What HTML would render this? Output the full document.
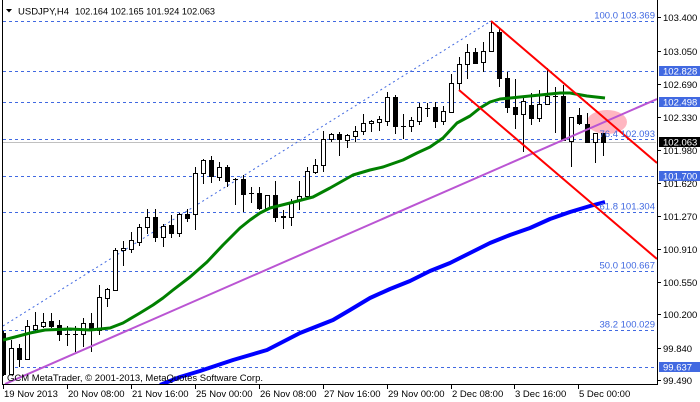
<!DOCTYPE html>
<html><head><meta charset="utf-8"><style>
html,body{margin:0;padding:0;background:#fff;}
svg{display:block;}
text{font-family:"Liberation Sans",sans-serif;font-size:9.5px;}
</style></head><body>
<svg width="700" height="402" viewBox="0 0 700 402" xmlns="http://www.w3.org/2000/svg">
<defs><clipPath id="c"><rect x="3" y="0" width="654" height="384"/></clipPath></defs>
<rect width="700" height="402" fill="#fff"/>
<g clip-path="url(#c)">
<!-- horizontal dashed lines -->
<g stroke="#4169E1" stroke-width="1" stroke-dasharray="3,3" fill="none">
<path d="M3 21.5H656M3 71.5H656M3 102.5H656M3 139.5H656M3 176.5H656M3 212.5H656M3 271.5H656M3 330.5H656M3 367.5H656"/>
</g>
<path d="M3 142.5H656" stroke="#C0C0C0" stroke-width="1"/>
<!-- fib trend line -->
<path d="M3 326L491 21" stroke="#4169E1" stroke-width="1" stroke-dasharray="2,3" fill="none"/>
<!-- ellipse -->
<ellipse cx="607" cy="122" rx="20" ry="12" fill="#FFB6C1"/>
<!-- candle wicks -->
<path stroke="#000" stroke-width="1" fill="none" d="M3.5 331V376M11.5 340V375M19.5 344V367M27.5 320V360M35.5 312V333M43.5 313V328M51.5 313V328M59.5 320V341M67.5 326V346M75.5 326V352M83.5 318V347M91.5 313V352M99.5 285V335M107.5 288V307M115.5 248V291M123.5 241V266M131.5 232V253M139.5 224V246M147.5 209V234M155.5 209V242M163.5 224V247M171.5 215V238M179.5 213V237M187.5 209V222M195.5 167V230M203.5 159V184M211.5 156V183M219.5 162V181M227.5 165V187M235.5 178V205M243.5 175V212M251.5 187V203M259.5 187V210M267.5 195V210M275.5 181V222M283.5 210V229M291.5 199V226M299.5 181V210M307.5 167V198M315.5 159V174M323.5 131V172M331.5 133V142M339.5 132V156M347.5 134V148M355.5 126V142M363.5 114V135M371.5 120V132M379.5 116V131M387.5 92V126M395.5 95V134M403.5 114V139M411.5 117V132M419.5 103V125M427.5 103V117M435.5 102V128M443.5 106V125M451.5 74V113M459.5 57V90M467.5 44V79M475.5 48V64M483.5 42V72M491.5 22V52M499.5 29V87M507.5 72V113M515.5 79V129M523.5 98V152M531.5 93V125M539.5 90V122M547.5 68V105M555.5 87V133M563.5 85V141M571.5 117V167M579.5 108V125M587.5 113V142M595.5 133V163M603.5 133V156"/>
<!-- doji -->
<path stroke="#000" stroke-width="1" fill="none" d="M65 334.5H70M73 334.5H78M233 179.5H238M249 193.5H254M401 126.5H406M425 108.5H430M553 96.5H558"/>
<!-- white bodies -->
<g fill="#fff" stroke="#000" stroke-width="1">
<rect x="9.5" y="348.5" width="4" height="26"/>
<rect x="25.5" y="326.5" width="4" height="33"/>
<rect x="33.5" y="325.5" width="4" height="4"/>
<rect x="41.5" y="322.5" width="4" height="4"/>
<rect x="81.5" y="323.5" width="4" height="11"/>
<rect x="97.5" y="297.5" width="4" height="33"/>
<rect x="105.5" y="289.5" width="4" height="9"/>
<rect x="113.5" y="250.5" width="4" height="40"/>
<rect x="121.5" y="248.5" width="4" height="2"/>
<rect x="129.5" y="240.5" width="4" height="9"/>
<rect x="137.5" y="227.5" width="4" height="15"/>
<rect x="145.5" y="217.5" width="4" height="10"/>
<rect x="161.5" y="226.5" width="4" height="11"/>
<rect x="177.5" y="214.5" width="4" height="19"/>
<rect x="193.5" y="173.5" width="4" height="41"/>
<rect x="201.5" y="160.5" width="4" height="13"/>
<rect x="217.5" y="167.5" width="4" height="10"/>
<rect x="265.5" y="195.5" width="4" height="13"/>
<rect x="289.5" y="203.5" width="4" height="14"/>
<rect x="297.5" y="196.5" width="4" height="4"/>
<rect x="305.5" y="171.5" width="4" height="25"/>
<rect x="313.5" y="165.5" width="4" height="7"/>
<rect x="321.5" y="139.5" width="4" height="26"/>
<rect x="329.5" y="134.5" width="4" height="5"/>
<rect x="345.5" y="135.5" width="4" height="5"/>
<rect x="353.5" y="131.5" width="4" height="5"/>
<rect x="361.5" y="123.5" width="4" height="8"/>
<rect x="369.5" y="121.5" width="4" height="2"/>
<rect x="377.5" y="119.5" width="4" height="3"/>
<rect x="385.5" y="97.5" width="4" height="24"/>
<rect x="409.5" y="120.5" width="4" height="6"/>
<rect x="417.5" y="107.5" width="4" height="14"/>
<rect x="441.5" y="111.5" width="4" height="10"/>
<rect x="449.5" y="83.5" width="4" height="29"/>
<rect x="457.5" y="64.5" width="4" height="19"/>
<rect x="465.5" y="52.5" width="4" height="12"/>
<rect x="481.5" y="51.5" width="4" height="11"/>
<rect x="489.5" y="32.5" width="4" height="19"/>
<rect x="521.5" y="101.5" width="4" height="13"/>
<rect x="537.5" y="104.5" width="4" height="14"/>
<rect x="545.5" y="96.5" width="4" height="8"/>
<rect x="569.5" y="117.5" width="4" height="24"/>
<rect x="593.5" y="133.5" width="4" height="9"/>
</g>
<!-- black bodies -->
<g fill="#000">
<rect x="1" y="333" width="5" height="42"/>
<rect x="17" y="348" width="5" height="12"/>
<rect x="49" y="321" width="5" height="6"/>
<rect x="57" y="325" width="5" height="10"/>
<rect x="89" y="323" width="5" height="8"/>
<rect x="153" y="217" width="5" height="21"/>
<rect x="169" y="225" width="5" height="9"/>
<rect x="185" y="214" width="5" height="5"/>
<rect x="209" y="160" width="5" height="17"/>
<rect x="225" y="167" width="5" height="15"/>
<rect x="241" y="179" width="5" height="16"/>
<rect x="257" y="193" width="5" height="16"/>
<rect x="273" y="195" width="5" height="23"/>
<rect x="281" y="216" width="5" height="2"/>
<rect x="337" y="134" width="5" height="6"/>
<rect x="393" y="97" width="5" height="30"/>
<rect x="433" y="107" width="5" height="15"/>
<rect x="473" y="52" width="5" height="12"/>
<rect x="497" y="32" width="5" height="47"/>
<rect x="505" y="78" width="5" height="30"/>
<rect x="513" y="107" width="5" height="8"/>
<rect x="529" y="105" width="5" height="14"/>
<rect x="561" y="96" width="5" height="45"/>
<rect x="577" y="115" width="5" height="9"/>
<rect x="585" y="124" width="5" height="19"/>
<rect x="601" y="133" width="5" height="10"/>
</g>
<!-- moving averages -->
<polyline fill="none" stroke="#0000FF" stroke-width="4" stroke-linejoin="round" points="160,385 180,377 200,371 233,360 267,350 300,333 333,320 350,310 370,298 390,289 410,281 430,271 450,263 470,253 490,243 510,235 530,228 550,219 570,212 590,206 605,202"/>
<polyline fill="none" stroke="#008000" stroke-width="3" stroke-linejoin="round" points="3,340 15,337 30,333 45,330 70,329 90,330 110,328 123,323 140,313 153,305 163,298 173,290 190,277 207,262 223,245 240,228 250,220 260,213 270,208 290,203 313,197 330,188 353,175 370,170 383,167 403,160 417,153 430,147 443,138 457,123 470,116 480,108 490,102 500,99 520,97 540,95 560,93 570,93 587,96 605,98"/>
<!-- objects -->
<path d="M5 384L657 99" stroke="#BA55D3" stroke-width="2" fill="none"/>
<path d="M491 21L657 163M459 90L657 259" stroke="#FF0000" stroke-width="2" fill="none"/>
<!-- fib labels -->
<g fill="#4169E1" text-anchor="end">
<text x="655" y="18.5">100.0 103.369</text>
<text x="655" y="137">76.4 102.093</text>
<text x="655" y="209.5">61.8 101.304</text>
<text x="655" y="268.5">50.0 100.667</text>
<text x="655" y="327.5">38.2 100.029</text>
</g>
<!-- watermark -->
<text x="7" y="381" fill="#000" textLength="256" lengthAdjust="spacingAndGlyphs">GCM MetaTrader, © 2001-2013, MetaQuotes Software Corp.</text>
</g>
<!-- title -->
<polygon points="6,9 12,9 9,12.5" fill="#000"/>
<text x="18" y="14.5" fill="#000">USDJPY,H4</text>
<text x="75" y="14.5" fill="#000" textLength="140" lengthAdjust="spacingAndGlyphs">102.164 102.165 101.924 102.063</text>
<!-- borders -->
<path d="M2.5 0V384.5H657.5V0" stroke="#000" stroke-width="1" fill="none"/>
<!-- price axis ticks -->
<path stroke="#000" stroke-width="1" d="M658 17.5H661M658 51.5H661M658 84.5H661M658 117.5H661M658 150.5H661M658 183.5H661M658 216.5H661M658 249.5H661M658 282.5H661M658 314.5H661M658 348.5H661M658 380.5H661"/>
<g fill="#000">
<text x="663" y="21">103.400</text>
<text x="663" y="55">103.050</text>
<text x="663" y="88">102.690</text>
<text x="663" y="121">102.330</text>
<text x="663" y="154">101.980</text>
<text x="663" y="187">101.620</text>
<text x="663" y="220">101.270</text>
<text x="663" y="253">100.910</text>
<text x="663" y="286">100.550</text>
<text x="663" y="318">100.200</text>
<text x="663" y="352">99.840</text>
<text x="663" y="384">99.490</text>
</g>
<!-- price boxes -->
<rect x="659" y="66" width="41" height="10" fill="#4169E1"/>
<text x="663" y="74.5" fill="#fff">102.828</text>
<rect x="659" y="97" width="41" height="10" fill="#4169E1"/>
<text x="663" y="105.5" fill="#fff">102.498</text>
<rect x="659" y="137" width="41" height="10" fill="#000"/>
<text x="663" y="145.5" fill="#fff">102.063</text>
<rect x="659" y="171" width="41" height="10" fill="#4169E1"/>
<text x="663" y="179.5" fill="#fff">101.700</text>
<rect x="659" y="362" width="41" height="10" fill="#4169E1"/>
<text x="663" y="370.5" fill="#fff">99.637</text>
<!-- time axis -->
<path stroke="#000" stroke-width="1" d="M3.5 385V389M67.5 385V389M131.5 385V389M195.5 385V389M259.5 385V389M323.5 385V389M387.5 385V389M451.5 385V389M514.5 385V389M578.5 385V389"/>
<g fill="#000">
<text x="4" y="397">19 Nov 2013</text>
<text x="68" y="397">20 Nov 08:00</text>
<text x="132" y="397">21 Nov 16:00</text>
<text x="196" y="397">25 Nov 00:00</text>
<text x="260" y="397">26 Nov 08:00</text>
<text x="324" y="397">27 Nov 16:00</text>
<text x="388" y="397">29 Nov 00:00</text>
<text x="452" y="397">2 Dec 08:00</text>
<text x="515" y="397">3 Dec 16:00</text>
<text x="579" y="397">5 Dec 00:00</text>
</g>
</svg>
</body></html>
